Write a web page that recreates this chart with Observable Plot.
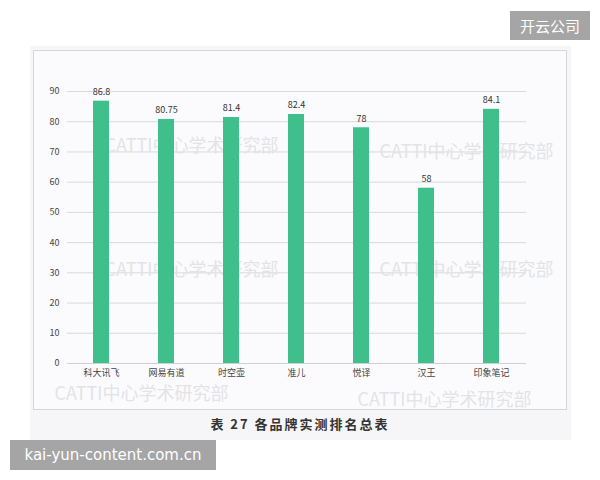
<!DOCTYPE html>
<html>
<head>
<meta charset="utf-8">
<script src="https://cdn.jsdelivr.net/npm/d3@7"></script>
<script src="https://cdn.jsdelivr.net/npm/@observablehq/plot@0.6"></script>
<style>
  html, body { margin: 0; padding: 0; background: #ffffff; }
  #wrap { position: relative; width: 600px; height: 480px; overflow: hidden; font-family: "Noto Sans CJK SC", "Noto Sans", sans-serif; }
  #card { position: absolute; left: 30px; top: 46px; width: 541px; height: 394px; background: #f6f6f8; }
  #frame { position: absolute; left: 33px; top: 50px; width: 532px; height: 358px; border: 1px solid #d6d6d9; background: #fbfbfd; }
  #chart { position: absolute; left: 0; top: 0; }
  #caption { position: absolute; left: 0; width: 600px; top: 414px; text-align: center; font-size: 13px; font-weight: bold; color: #333; letter-spacing: 2px; font-family: "Noto Sans CJK SC", serif; }
  #badge1 { position: absolute; left: 510px; top: 11px; width: 80px; height: 29px; background: #a5a5a5; color: #fff; font-size: 15px; line-height: 29px; text-align: center; }
  #badge2 { position: absolute; left: 10px; top: 440px; width: 206px; height: 30px; background: #a5a5a5; color: #fff; font-size: 15px; line-height: 30px; text-align: center; font-family: "DejaVu Sans", sans-serif; }
</style>
</head>
<body>
<div id="wrap">
  <div id="card"></div>
  <div id="frame"></div>
  <div id="chart"></div>
  <div id="caption">表 27 各品牌实测排名总表</div>
  <div id="badge1">开云公司</div>
  <div id="badge2">kai-yun-content.com.cn</div>
</div>
<script>
const brands = ["科大讯飞", "网易有道", "时空壶", "准儿", "悦译", "汉王", "印象笔记"];
const scores = [86.8, 80.75, 81.4, 82.4, 78, 58, 84.1];
const scoreLabels = ["86.8", "80.75", "81.4", "82.4", "78", "58", "84.1"];
const yTicks = [0, 10, 20, 30, 40, 50, 60, 70, 80, 90];
const watermarkText = "CATTI中心学术研究部";
const watermarkX = ["网易有道", "汉王", "网易有道", "汉王", "科大讯飞", "汉王"];
const watermarkY = [72, 70, 31, 31, -10.2, -12.2];
const watermarkDx = [25, 40, 25, 40, 40, 18];

const data = brands.map((b, i) => ({brand: b, score: scores[i], label: scoreLabels[i]}));
const watermarks = watermarkX.map((x, i) => ({x, y: watermarkY[i], dx: watermarkDx[i]}));

const chart = Plot.plot({
  width: 600,
  height: 420,
  marginTop: 91,
  marginBottom: 57,
  marginLeft: 67,
  marginRight: 74,
  style: {background: "transparent", fontFamily: "'Noto Sans CJK SC', 'Noto Sans', sans-serif", fontSize: "9px", color: "#444", overflow: "visible"},
  x: {domain: brands, paddingInner: 0.75, paddingOuter: 0.375, label: null, tickSize: 0, tickPadding: 6},
  y: {domain: [0, 90], ticks: yTicks, label: null, tickSize: 0, tickPadding: 8},
  marks: [
    Plot.gridY(yTicks, {stroke: "#d9d9d9", strokeOpacity: 1}),
    ...watermarks.map(w => Plot.text([w], {x: "x", y: "y", text: () => watermarkText, fontSize: 18, fill: "#e3e3e5", dx: w.dx, clip: false})),
    Plot.barY(data, {x: "brand", y: "score", fill: "#3fbf8b"}),
    Plot.text(data, {x: "brand", y: "score", text: "label", dy: -9, fontSize: 9, fill: "#333"}),
    Plot.ruleY([0], {stroke: "#d0d0d0"})
  ]
});
document.getElementById("chart").appendChild(chart);
</script>
</body>
</html>
